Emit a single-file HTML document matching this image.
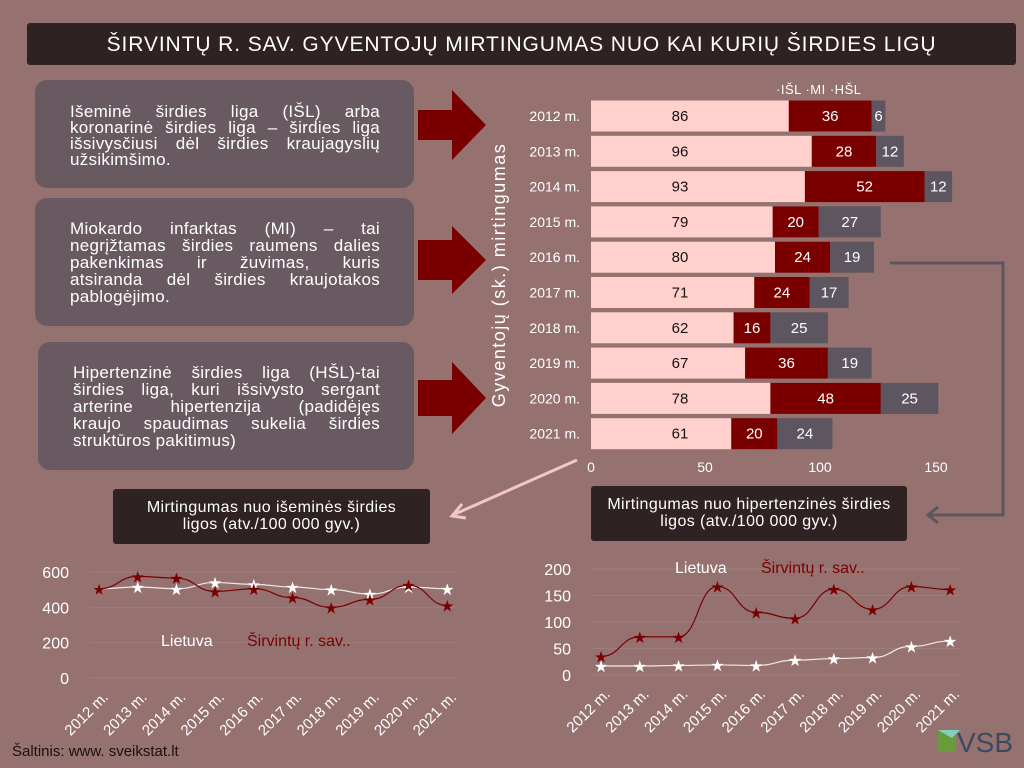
<!DOCTYPE html>
<html><head><meta charset="utf-8"><style>
body{margin:0;width:1024px;height:768px;background:#957270;font-family:"Liberation Sans",sans-serif;overflow:hidden;position:relative}
.box{position:absolute;background:rgba(95,85,95,0.82);border-radius:12px;color:#fff;font-size:17px;line-height:16px;box-sizing:border-box;letter-spacing:0.3px}
.box div{text-align:justify;text-align-last:justify;white-space:nowrap;word-spacing:0}
.box div.l{text-align-last:left}
.cap{position:absolute;background:#2e2222;color:#fff;font-size:16px;line-height:17px;text-align:center;border-radius:3px;letter-spacing:0.4px}
</style></head><body>
<div style="position:absolute;left:27px;top:23px;width:989px;height:42px;background:#2e2222;border-radius:3px;color:#fff;font-size:21px;line-height:44px;text-align:center;letter-spacing:0.9px">ŠIRVINTŲ R. SAV. GYVENTOJŲ MIRTINGUMAS NUO KAI KURIŲ ŠIRDIES LIGŲ</div>
<div class="box" style="left:35px;top:80px;width:379px;height:108px;padding:24px 34px 0 35px">
<div>Išeminė širdies liga (IŠL) arba</div><div>koronarinė širdies liga – širdies liga</div><div>išsivysčiusi dėl širdies kraujagyslių</div><div class="l">užsikimšimo.</div></div>
<div class="box" style="left:35px;top:198px;width:379px;height:128px;padding:22px 34px 0 35px;line-height:17px">
<div>Miokardo infarktas (MI) – tai</div><div>negrįžtamas širdies raumens dalies</div><div>pakenkimas ir žuvimas, kuris</div><div>atsiranda dėl širdies kraujotakos</div><div class="l">pablogėjimo.</div></div>
<div class="box" style="left:38px;top:342px;width:376px;height:128px;padding:22px 34px 0 35px;line-height:17px">
<div>Hipertenzinė širdies liga (HŠL)-tai</div><div>širdies liga, kuri išsivysto sergant</div><div>arterine hipertenzija (padidėjęs</div><div>kraujo spaudimas sukelia širdies</div><div class="l">struktūros pakitimus)</div></div>
<div class="cap" style="left:113px;top:489px;width:317px;height:55px;padding:10px 20px 0;box-sizing:border-box">Mirtingumas nuo išeminės širdies ligos (atv./100 000 gyv.)</div>
<div class="cap" style="left:591px;top:486px;width:316px;height:55px;padding:10px 14px 0;box-sizing:border-box">Mirtingumas nuo hipertenzinės širdies ligos (atv./100 000 gyv.)</div>
<svg width="1024" height="768" style="position:absolute;left:0;top:0" font-family="Liberation Sans, sans-serif">
<g fill="#7a0000">
<polygon points="418,110 452,110 452,90 486,125 452,160 452,140 418,140"/>
<polygon points="418,240 452,240 452,226 486,260 452,294 452,280 418,280"/>
<polygon points="418,380 452,380 452,362 486,398 452,434 452,416 418,416"/>
</g>
<line x1="577" y1="460" x2="455" y2="514" stroke="#f4c6c2" stroke-width="3"/>
<polyline points="462,504 452,516 466,518" fill="none" stroke="#f4c6c2" stroke-width="3"/>
<polyline points="890,263 1003,263 1003,515 930,515" fill="none" stroke="#5d5560" stroke-width="3"/>
<polyline points="938,507 928,515 938,523" fill="none" stroke="#5d5560" stroke-width="3"/>
<text transform="translate(505,275) rotate(-90)" text-anchor="middle" fill="#fff" font-size="18" letter-spacing="1.5">Gyventojų (sk.) mirtingumas</text>
<text x="776" y="94" fill="#fff" font-size="13" letter-spacing="0.5">·IŠL ·MI ·HŠL</text>
<g id="bars" font-size="15"></g>
<g font-size="14" fill="#fff" text-anchor="middle">
<text x="591" y="472">0</text><text x="705" y="472">50</text><text x="820" y="472">100</text><text x="936" y="472">150</text>
</g>
<g id="lc" font-size="16" fill="#fff"></g>
<text x="12" y="756" font-size="15" fill="#1a1010">Šaltinis: www. sveikstat.lt</text>
<rect x="938" y="730" width="18" height="22" fill="#6a9a3a"/><path d="M938 730 h22 l-8 8z" fill="#7fd0c0"/>
<text x="957" y="752" font-size="28" fill="#3a4a60">VSB</text>
</svg>
<script>
const ns="http://www.w3.org/2000/svg";
function el(p,t,a,txt){const e=document.createElementNS(ns,t);for(const k in a)e.setAttribute(k,a[k]);if(txt!==undefined)e.textContent=txt;p.appendChild(e);return e;}
const bars=document.getElementById('bars');
const D=[[86,36,6],[96,28,12],[93,52,12],[79,20,27],[80,24,19],[71,24,17],[62,16,25],[67,36,19],[78,48,25],[61,20,24]];
const cols=['#ffd0cc','#7a0000','#5d5560'],tc=['#1a1010','#fff','#fff'];
const s=2.3,x0=591;
D.forEach((d,i)=>{const cy=116+i*35.3;let x=x0;
el(bars,'text',{x:580,y:cy+5,fill:'#fff','text-anchor':'end','font-size':14},(2012+i)+' m.');
d.forEach((v,j)=>{const w=v*s;el(bars,'rect',{x:x,y:cy-15.5,width:w,height:31,fill:cols[j]});
el(bars,'text',{x:j==0?680:x+w/2,y:cy+5,fill:tc[j],'text-anchor':'middle'},v);x+=w;});});
const lc=document.getElementById('lc');
function chart(ticks,y0,k,x0,dx,A,B,legY,lx){
ticks.forEach(t=>{const y=y0-t*k;el(lc,'text',{x:x0-30,y:y+6,'text-anchor':'end'},t);el(lc,'line',{x1:x0-10,x2:x0+dx*9+10,y1:y,y2:y,stroke:'#9f7d7b','stroke-width':1});});
[[B,'#f0e8e0'],[A,'#7a0000']].forEach(([S,c])=>{let p=S.map((v,i)=>[x0+i*dx,y0-v*k]);
let d='M'+p[0];for(let i=1;i<p.length;i++){const a=p[i-1],b=p[i];const m=(a[0]+b[0])/2;d+=` C${m},${a[1]} ${m},${b[1]} ${b[0]},${b[1]}`;}
el(lc,'path',{d:d,fill:'none',stroke:c,'stroke-width':1.2});
p.forEach(q=>el(lc,'text',{x:q[0],y:q[1]+6,'text-anchor':'middle',fill:c==='#7a0000'?'#7a0000':'#fff','font-size':16},'★'));});
for(let i=0;i<10;i++){const x=x0+i*dx+10,y=y0+20;el(lc,'text',{x:x,y:y,'text-anchor':'end',transform:`rotate(-45 ${x} ${y})`,'font-size':15},(2012+i)+' m.');}
el(lc,'text',{x:lx,y:legY},'Lietuva');el(lc,'text',{x:lx+86,y:legY,fill:'#7a0000'},'Širvintų r. sav..');}
chart([0,200,400,600],678,0.1767,99,38.7,[505,575,565,490,505,455,400,445,525,410],[505,515,505,540,530,515,500,475,515,505],646,161);
chart([0,50,100,150,200],675,0.53,601,38.8,[35,72,72,167,118,107,162,124,167,161],[17,17,18,19,18,28,31,33,54,64],573,675);
</script>
</body></html>
